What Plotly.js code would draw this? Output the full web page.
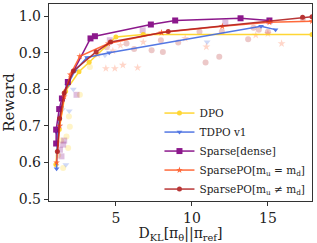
<!DOCTYPE html>
<html><head><meta charset="utf-8">
<script src="https://cdn.plot.ly/plotly-3.0.1.min.js"></script>
<style>html,body{margin:0;padding:0;background:#fff}#chart{width:317px;height:243px}</style>
</head><body><div id="chart"></div>
<script>
// Main curves
var dpoX = [1.05, 1.27, 1.69, 2.57, 3.24, 5.0, 6.8, 17.9];
var dpoY = [0.595, 0.69, 0.795, 0.848, 0.874, 0.943, 0.950, 0.950];
var tdpoX = [1.1, 1.15, 1.4, 1.8, 2.3, 3.1, 4.56, 14.55, 15.5];
var tdpoY = [0.583, 0.68, 0.75, 0.81, 0.85, 0.887, 0.900, 0.972, 0.963];
var denseX = [1.07, 1.07, 1.27, 1.45, 1.84, 3.33, 3.62, 7.3, 8.9, 13.2, 15.1];
var denseY = [0.652, 0.690, 0.746, 0.775, 0.820, 0.939, 0.945, 0.977, 0.988, 0.994, 0.988];
var eqX = [1.1, 1.3, 1.6, 2.0, 2.63, 4.5, 8.0, 12.0, 15.1, 17.9];
var eqY = [0.60, 0.70, 0.78, 0.84, 0.890, 0.925, 0.955, 0.972, 0.983, 0.986];
var neqX = [1.15, 1.3, 1.6, 2.2, 3.7, 4.65, 8.44, 17.28, 17.9];
var neqY = [0.63, 0.72, 0.79, 0.85, 0.902, 0.929, 0.958, 0.997, 0.998];

// Faded individual runs
var dpoFX = [3.29, 2.63, 1.91, 1.75, 1.86, 1.53, 1.97, 1.2, 1.4];
var dpoFY = [0.861, 0.785, 0.726, 0.671, 0.640, 0.585, 0.698, 0.62, 0.66];
var tdpoFX = [4.28, 1.93, 1.47, 1.71, 11.0, 1.3, 2.2];
var tdpoFY = [0.893, 0.741, 0.744, 0.594, 0.929, 0.70, 0.80];
var denseFX = [4.6, 6.76, 12.2, 2.41, 1.53, 1.32, 1.42, 1.6];
var denseFY = [0.934, 0.961, 0.982, 0.785, 0.649, 0.635, 0.617, 0.66];
var eqFX = [4.34, 4.93, 6.43, 5.46, 6.8, 10.95, 14.2, 15.0, 15.9, 9.56, 4.8, 5.3, 3.8];
var eqFY = [0.857, 0.857, 0.859, 0.866, 0.929, 0.916, 0.948, 0.952, 0.925, 0.939, 0.905, 0.92, 0.895];
var neqFX = [7.35, 7.96, 8.09, 9.1, 10.5, 10.9, 11.8, 11.97, 13.7, 14.4, 14.05, 15.0, 17.3, 4.4, 5.7, 6.2];
var neqFY = [0.907, 0.934, 0.902, 0.928, 0.957, 0.873, 0.889, 0.958, 0.937, 0.963, 0.968, 0.957, 0.993, 0.915, 0.925, 0.91];

var names = ['DPO', 'TDPO v1', 'Sparse[dense]', 'SparsePO[m<sub>u</sub> = m<sub>d</sub>]', 'SparsePO[m<sub>u</sub> ≠ m<sub>d</sub>]'];
var colors = ['#FFD21F', '#4169E1', '#800080', '#FF5a26', '#B22222'];
var syms = ['circle', 'triangle-down', 'square', 'star', 'circle'];
var mains = [[dpoX, dpoY], [tdpoX, tdpoY], [denseX, denseY], [eqX, eqY], [neqX, neqY]];
var fades = [[dpoFX, dpoFY], [tdpoFX, tdpoFY], [denseFX, denseFY], [eqFX, eqFY], [neqFX, neqFY]];

var traces = [];
for (var i = 0; i < 5; i++) {
  traces.push({x: fades[i][0], y: fades[i][1], mode: 'markers', type: 'scatter', showlegend: false,
    marker: {color: colors[i], symbol: syms[i], size: 6, opacity: 0.25}, hoverinfo: 'skip'});
}
for (var i = 0; i < 5; i++) {
  traces.push({x: mains[i][0], y: mains[i][1], mode: 'lines+markers', type: 'scatter', name: names[i],
    line: {color: colors[i], width: 1.5}, opacity: 0.9,
    marker: {color: colors[i], symbol: syms[i], size: i === 2 ? 6 : 5}});
}

var layout = {
  width: 317, height: 243,
  margin: {l: 49, r: 5, t: 4, b: 42},
  paper_bgcolor: '#fff', plot_bgcolor: '#fff',
  font: {family: 'DejaVu Serif', color: '#222'},
  showlegend: true,
  legend: {x: 0.42, y: 0.52, xanchor: 'left', yanchor: 'top', bgcolor: 'rgba(255,255,255,0)',
    font: {size: 10.5, family: 'DejaVu Serif'}, tracegroupgap: 0},
  xaxis: {range: [0.6, 17.9], tickvals: [5, 10, 15], ticks: 'outside', ticklen: 4, tickcolor: '#333',
    showline: true, mirror: true, linecolor: '#333', linewidth: 1.2, showgrid: false, zeroline: false,
    tickfont: {size: 14},
    title: {text: 'D<sub>KL</sub>[π<sub>θ</sub>||π<sub>ref</sub>]', font: {size: 14}, standoff: 6}},
  yaxis: {range: [0.495, 1.033], tickvals: [0.5, 0.6, 0.7, 0.8, 0.9, 1.0], ticktext: ['0.5','0.6','0.7','0.8','0.9','1.0'],
    ticks: 'outside', ticklen: 4, tickcolor: '#333',
    showline: true, mirror: true, linecolor: '#333', linewidth: 1.2, showgrid: false, zeroline: false,
    tickfont: {size: 14},
    title: {text: 'Reward', font: {size: 15}, standoff: 3}}
};
Plotly.newPlot('chart', traces, layout, {staticPlot: true, displayModeBar: false});
</script></body></html>
